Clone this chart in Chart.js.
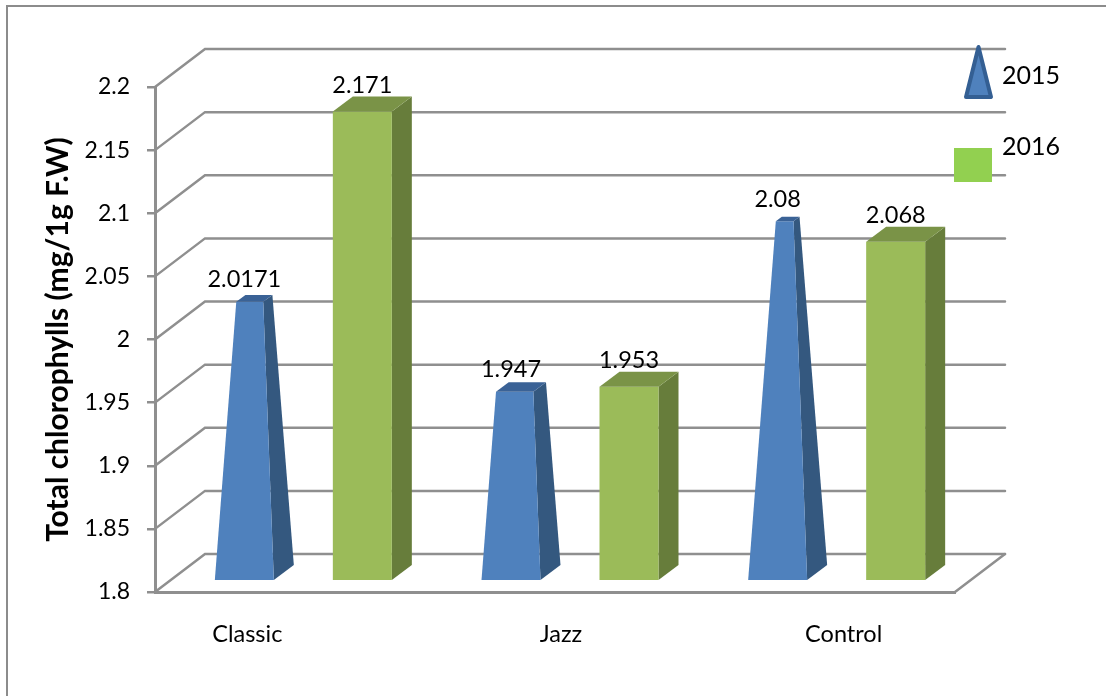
<!DOCTYPE html>
<html>
<head>
<meta charset="utf-8">
<title>Total chlorophylls</title>
<style>
  html, body { margin: 0; padding: 0; background: #fff; }
  canvas { display: block; }
</style>
<script src="https://cdn.jsdelivr.net/npm/chart.js@4/dist/chart.umd.min.js"></script>
</head>
<body>
<canvas id="chart" width="1106" height="696"></canvas>
<script>
// Chart values
const categories = ['Classic', 'Jazz', 'Control'];
const seriesNames = ['2015', '2016'];
const values2015 = [2.0171, 1.947, 2.08];
const values2016 = [2.171, 1.953, 2.068];
const valueLabels2015 = ['2.0171', '1.947', '2.08'];
const valueLabels2016 = ['2.171', '1.953', '2.068'];

// Appearance
const FONT = 'Lato, "Open Sans", sans-serif';
const TICK_SIZE = 23;
const LABEL_SIZE = 23.5;
const LEGEND_SIZE = 25;
const GRID = '#8f8f8f';
const WALL = { dx: 50, dy: -38 };        // depth of the floor and side wall
const BAR_SHIFT = { dx: 15, dy: -12 };   // bars sit slightly back from the front edge
const BAR_DEPTH = { dx: 20, dy: -15 };
const BLUE = { front: '#4f81bd', side: '#34587f', top: '#3a6296' };
const GREEN = { front: '#9bbb59', side: '#677d3b', top: '#7a9347' };
const CATEGORY_NUDGE = [-41, 6, 22];

function polygon(ctx, points, fill) {
  ctx.beginPath();
  points.forEach((p, i) => (i ? ctx.lineTo(p[0], p[1]) : ctx.moveTo(p[0], p[1])));
  ctx.closePath();
  ctx.fillStyle = fill;
  ctx.fill();
}

// Back wall, side wall and floor, following the value scale's ticks
const wallsPlugin = {
  id: 'walls',
  beforeDatasetsDraw(chart) {
    const { ctx, scales: { x, y } } = chart;
    ctx.save();
    ctx.strokeStyle = GRID;
    ctx.lineWidth = 2.5;
    ctx.lineCap = 'round';
    y.ticks.forEach(tick => {
      const py = y.getPixelForValue(tick.value);
      ctx.beginPath();
      ctx.moveTo(x.left, py);
      ctx.lineTo(x.left + WALL.dx, py + WALL.dy);
      ctx.lineTo(x.right + WALL.dx, py + WALL.dy);
      ctx.stroke();
    });
    ctx.beginPath();
    ctx.moveTo(x.right, y.bottom);
    ctx.lineTo(x.right + WALL.dx, y.bottom + WALL.dy);
    ctx.stroke();
    ctx.restore();
  }
};

// Height the pyramid's front edge reaches once the lean towards its apex is included
function pyramidFrontTop(bar, floor, apexPixel) {
  const t = (floor - bar.y) / (floor - apexPixel);
  return floor + BAR_SHIFT.dy + t * (apexPixel - floor + BAR_DEPTH.dy / 2);
}

// Pyramid columns that taper to a point at the axis maximum
function drawPyramid(ctx, bar, floor, apexPixel, colors) {
  const left = bar.x - bar.width / 2 + BAR_SHIFT.dx;
  const right = bar.x + bar.width / 2 + BAR_SHIFT.dx;
  const base = floor + BAR_SHIFT.dy;
  const apex = [
    (left + right) / 2 + BAR_DEPTH.dx / 2,
    apexPixel + BAR_SHIFT.dy + BAR_DEPTH.dy / 2
  ];
  const t = (floor - bar.y) / (floor - apexPixel);
  const up = p => [p[0] + (apex[0] - p[0]) * t, p[1] + (apex[1] - p[1]) * t];
  const fl = [left, base];
  const fr = [right, base];
  const br = [right + BAR_DEPTH.dx, base + BAR_DEPTH.dy];
  const bl = [left + BAR_DEPTH.dx, base + BAR_DEPTH.dy];
  polygon(ctx, [fr, br, up(br), up(fr)], colors.side);
  polygon(ctx, [fl, fr, up(fr), up(fl)], colors.front);
  polygon(ctx, [up(fl), up(fr), up(br), up(bl)], colors.top);
}

// Square columns extruded backwards
function drawBox(ctx, bar, floor, colors) {
  const left = bar.x - bar.width / 2 + BAR_SHIFT.dx;
  const right = bar.x + bar.width / 2 + BAR_SHIFT.dx;
  const base = floor + BAR_SHIFT.dy;
  const top = bar.y + BAR_SHIFT.dy;
  const d = BAR_DEPTH;
  polygon(ctx, [[right, base], [right + d.dx, base + d.dy], [right + d.dx, top + d.dy], [right, top]], colors.side);
  polygon(ctx, [[left, base], [right, base], [right, top], [left, top]], colors.front);
  polygon(ctx, [[left, top], [right, top], [right + d.dx, top + d.dy], [left + d.dx, top + d.dy]], colors.top);
}

const columnsPlugin = {
  id: 'columns',
  beforeDatasetDraw(chart, args) {
    const { ctx, scales: { y } } = chart;
    ctx.save();
    args.meta.data.forEach(bar => {
      if (args.index === 0) drawPyramid(ctx, bar, y.bottom, y.getPixelForValue(y.max), BLUE);
      else drawBox(ctx, bar, y.bottom, GREEN);
    });
    ctx.restore();
    return false;
  }
};

// Value labels, category labels, legend key and chart frame
const annotationPlugin = {
  id: 'annotations',
  afterDraw(chart) {
    const { ctx, scales: { x, y } } = chart;
    ctx.save();
    ctx.strokeStyle = '#8c8c8c';
    ctx.lineWidth = 2;
    ctx.beginPath();
    ctx.moveTo(7, 696);
    ctx.lineTo(7, 6);
    ctx.lineTo(1106, 6);
    ctx.stroke();

    ctx.fillStyle = '#000';
    ctx.font = LABEL_SIZE + 'px ' + FONT;
    ctx.textAlign = 'center';
    ctx.textBaseline = 'middle';

    const labelSets = [valueLabels2015, valueLabels2016];
    const apex = y.getPixelForValue(y.max);
    chart.data.datasets.forEach((ds, d) => {
      chart.getDatasetMeta(d).data.forEach((bar, i) => {
        const labelY = d === 0
          ? pyramidFrontTop(bar, y.bottom, apex) - 22
          : bar.y + BAR_SHIFT.dy - 26;
        ctx.fillText(labelSets[d][i], bar.x + BAR_SHIFT.dx, labelY);
      });
    });

    categories.forEach((name, i) => {
      ctx.fillText(name, x.getPixelForTick(i) + CATEGORY_NUDGE[i], 634);
    });

    // Legend
    ctx.font = LEGEND_SIZE + 'px ' + FONT;
    ctx.textAlign = 'left';
    ctx.fillText(seriesNames[0], 1002, 76);
    ctx.fillText(seriesNames[1], 1002, 147);
    ctx.beginPath();
    ctx.moveTo(978.5, 47);
    ctx.lineTo(991, 97);
    ctx.lineTo(966, 97);
    ctx.closePath();
    ctx.fillStyle = BLUE.front;
    ctx.fill();
    ctx.strokeStyle = '#345f93';
    ctx.lineWidth = 4;
    ctx.lineJoin = 'round';
    ctx.stroke();
    ctx.fillStyle = '#92d050';
    ctx.fillRect(954, 148, 38, 34);
    ctx.restore();
  }
};

new Chart(document.getElementById('chart'), {
  type: 'bar',
  data: {
    labels: categories,
    datasets: [
      { label: seriesNames[0], data: values2015, backgroundColor: BLUE.front },
      { label: seriesNames[1], data: values2016, backgroundColor: GREEN.front }
    ]
  },
  options: {
    responsive: false,
    animation: false,
    datasets: { bar: { barPercentage: 0.5, categoryPercentage: 0.885 } },
    layout: { padding: { left: 0, top: 87, right: 151, bottom: 0 } },
    plugins: {
      legend: { display: false },
      tooltip: { enabled: false }
    },
    scales: {
      x: {
        afterFit(scale) { scale.height = 104; },
        grid: { drawOnChartArea: false, drawTicks: false },
        border: { color: GRID, width: 3 },
        ticks: { display: false }
      },
      y: {
        min: 1.8,
        max: 2.2,
        afterFit(scale) { scale.width = 155; },
        grid: { drawOnChartArea: false, color: GRID, lineWidth: 2.5, tickLength: 8 },
        border: { color: GRID, width: 3 },
        ticks: {
          stepSize: 0.05,
          padding: 17,
          color: '#000',
          font: { family: FONT, size: TICK_SIZE },
          callback: v => String(+v.toFixed(2))
        },
        title: {
          display: true,
          text: 'Total chlorophylls (mg/1g F.W)',
          color: '#000',
          font: { family: FONT, size: 30, weight: 'bold' },
          padding: { top: 40, bottom: 0 }
        }
      }
    }
  },
  plugins: [wallsPlugin, columnsPlugin, annotationPlugin]
});
</script>
</body>
</html>
